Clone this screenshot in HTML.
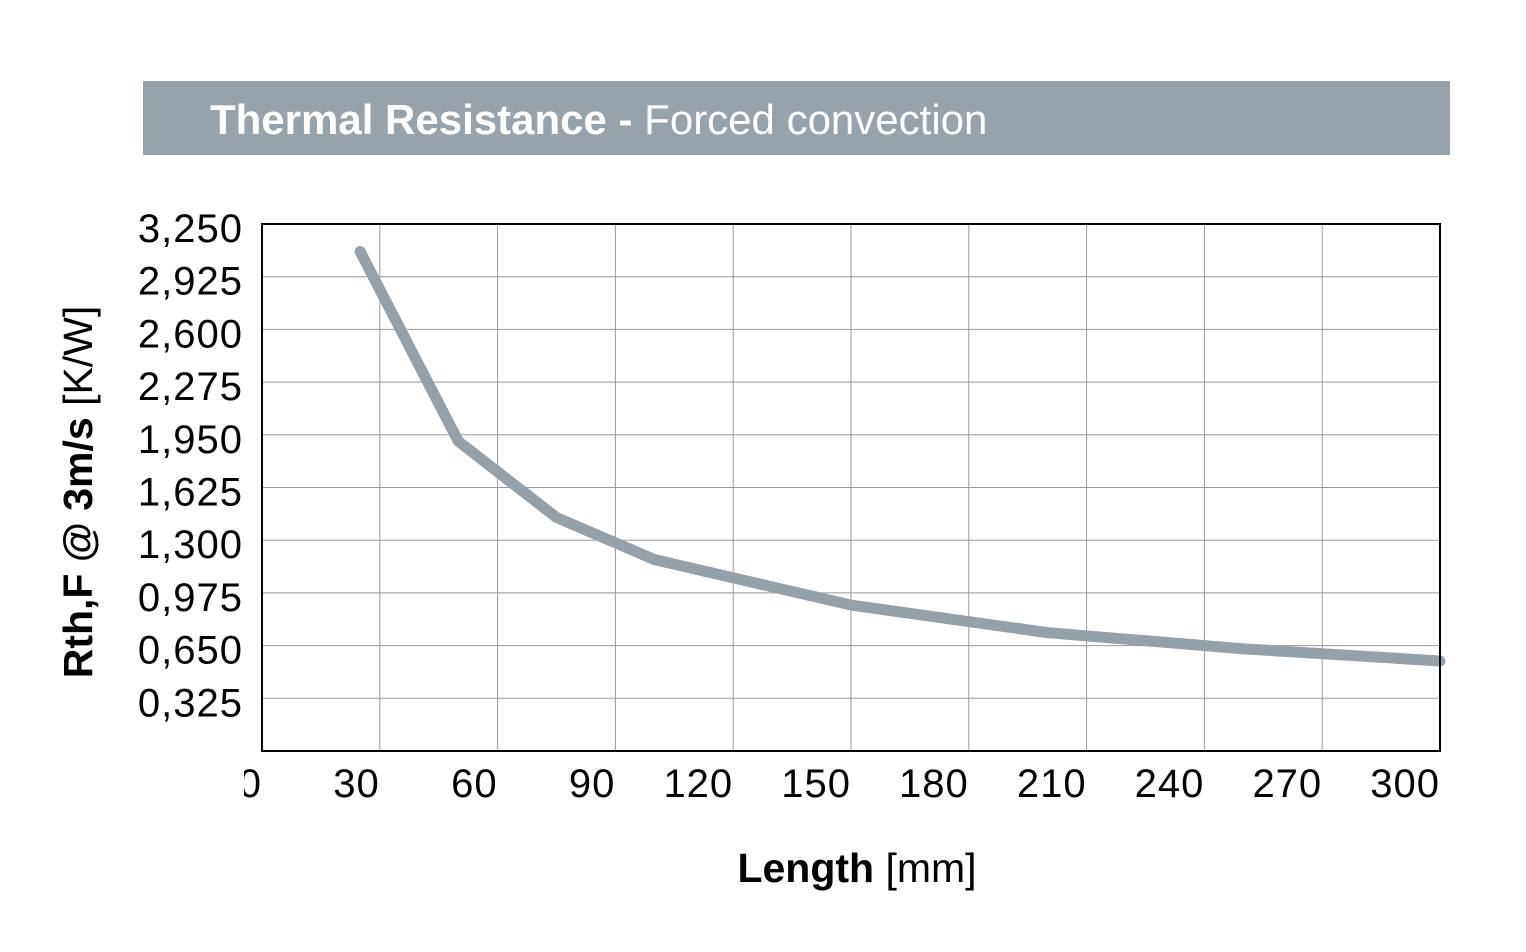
<!DOCTYPE html>
<html><head><meta charset="utf-8"><style>
html,body{margin:0;padding:0;background:#fff;}
body{width:1526px;height:947px;position:relative;overflow:hidden;font-family:"Liberation Sans",Arial,sans-serif;}
</style></head><body>
<svg width="1526" height="947" viewBox="0 0 1526 947" xmlns="http://www.w3.org/2000/svg" style="font-family:'Liberation Sans',Arial,sans-serif">
<rect x="143" y="81" width="1307" height="74" fill="#97a2aa"/>
<text x="210" y="134" font-size="42" fill="#fff"><tspan font-weight="bold">Thermal Resistance -</tspan> Forced convection</text>
<g id="grid"></g>
<g id="xt"></g>
<g id="yt"></g>
<polyline id="line" fill="none" stroke="#95a0a8" stroke-width="11" stroke-linecap="round" stroke-linejoin="round"/>
<rect x="262" y="224" width="1178" height="527" fill="none" stroke="#000" stroke-width="2"/>
<text transform="translate(92,492) rotate(-90)" text-anchor="middle" font-size="41"><tspan font-weight="bold">Rth,F @ 3m/s</tspan> [K/W]</text>
<text x="857" y="882" text-anchor="middle" font-size="41"><tspan font-weight="bold">Length</tspan> [mm]</text>
</svg>
<script>
const xTicks=[0,30,60,90,120,150,180,210,240,270,300];
const yTicks=[0.325,0.65,0.975,1.3,1.625,1.95,2.275,2.6,2.925,3.25];
const yTickLabels=["0,325","0,650","0,975","1,300","1,625","1,950","2,275","2,600","2,925","3,250"];
const lengths=[25,50,75,100,150,200,250,300];
const rth=[3.08,1.91,1.44,1.18,0.9,0.73,0.63,0.555];
const L=262,R=1440,T=224,B=751,XMAX=300,YMAX=3.25;
const sx=v=>L+v/XMAX*(R-L), sy=v=>B-v/YMAX*(B-T);
const NS="http://www.w3.org/2000/svg";
const g=document.getElementById('grid'),xt=document.getElementById('xt'),yt=document.getElementById('yt');
const cp=document.createElementNS(NS,'clipPath');cp.id='c0';
const cr=document.createElementNS(NS,'rect');cr.setAttribute('x',244);cr.setAttribute('y',750);cr.setAttribute('width',40);cr.setAttribute('height',60);
cp.appendChild(cr);document.querySelector('svg').appendChild(cp);
xTicks.forEach(v=>{
 const l=document.createElementNS(NS,'line');
 
 
 l.setAttribute('x1',sx(v));l.setAttribute('x2',sx(v));l.setAttribute('y1',T);l.setAttribute('y2',B);
 l.setAttribute('stroke','#999');l.setAttribute('stroke-width','1');g.appendChild(l);
 const t=document.createElementNS(NS,'text');
 
 
 t.setAttribute('x',sx(v));t.setAttribute('y',797);t.setAttribute('text-anchor','end');t.setAttribute('font-size','40');t.setAttribute('letter-spacing','1');
 if(v===0){t.setAttribute('clip-path','url(#c0)');}
 t.textContent=v;xt.appendChild(t);
});
yTicks.forEach((v,i)=>{
 const l=document.createElementNS(NS,'line');
 
 
 l.setAttribute('x1',L);l.setAttribute('x2',R);l.setAttribute('y1',sy(v));l.setAttribute('y2',sy(v));
 l.setAttribute('stroke','#999');l.setAttribute('stroke-width','1');g.appendChild(l);
 const t=document.createElementNS(NS,'text');
 
 
 t.setAttribute('x',243);t.setAttribute('y',sy(v)+18);t.setAttribute('text-anchor','end');t.setAttribute('font-size','40');t.setAttribute('letter-spacing','1');
 t.textContent=yTickLabels[i];yt.appendChild(t);
});
document.getElementById('line').setAttribute('points',lengths.map((x,i)=>sx(x)+','+sy(rth[i])).join(' '));
</script>
</body></html>
